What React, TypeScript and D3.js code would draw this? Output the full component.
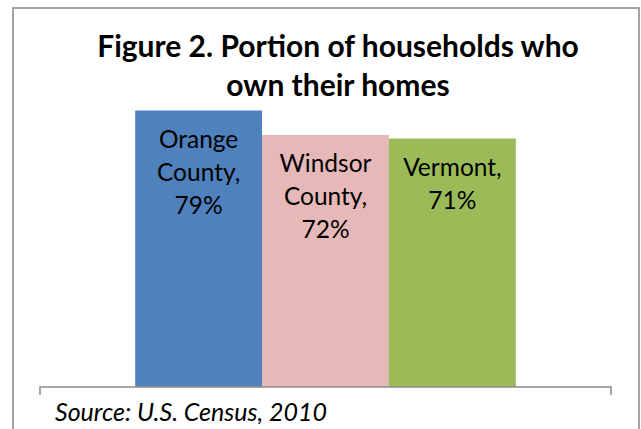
import React from "react";
import * as d3 from "d3";

const categories = ["Orange County", "Windsor County", "Vermont"];
const values = [79, 72, 71];
const labelLines = [
  ["Orange", "County,", "79%"],
  ["Windsor", "County,", "72%"],
  ["Vermont,", "71%"],
];
const colors = ["#4F81BD", "#E6B9B8", "#9BBB59"];
const titleLines = ["Figure 2. Portion of households who", "own their homes"];
const sourceText = "Source: U.S. Census, 2010";

export default function App() {
  const W = 641, H = 429;
  const x0 = 40, x1 = 611;
  const yBase = 387;
  const outer = d3.scaleBand<string>().domain(["all"]).range([x0, x1]).paddingInner(0).paddingOuter(0.25);
  const inner = d3.scaleBand<string>().domain(categories).range([0, outer.bandwidth()]).padding(0);
  const y = d3.scaleLinear().domain([0, 100]).range([yBase, yBase - 350]);
  const font = "Lato, 'Open Sans', sans-serif";
  return (
    <svg width={W} height={H} style={{ position: "absolute", left: 0, top: 0 }}>
      <rect x={0} y={0} width={W} height={H} fill="#fff" />
      <rect x={13} y={8} width={626} height={440} fill="none" stroke="#9a9a9a" strokeWidth={1.8} />
      {titleLines.map((t, i) => (
        <text key={i} x={338} y={57 + i * 39} textAnchor="middle" fontFamily={font} fontWeight="bold" fontSize={30} fill="#000">
          {t}
        </text>
      ))}
      {categories.map((c, i) => {
        const bx = (outer("all") as number) + (inner(c) as number);
        const bw = inner.bandwidth();
        const top = y(values[i]);
        return (
          <g key={c}>
            <rect x={bx} y={top} width={bw} height={yBase - top} fill={colors[i]} />
            {labelLines[i].map((l, j) => (
              <text key={j} x={bx + bw / 2} y={top + 37 + j * 33} textAnchor="middle" fontFamily={font} fontSize={24.5} fill="#000">
                {l}
              </text>
            ))}
          </g>
        );
      })}
      <path d={`M${x0},395V${yBase}H${x1}V395`} fill="none" stroke="#8c8c8c" strokeWidth={1.5} />
      <text x={55} y={421} fontFamily={font} fontStyle="italic" fontSize={25} fill="#000">
        {sourceText}
      </text>
    </svg>
  );
}
